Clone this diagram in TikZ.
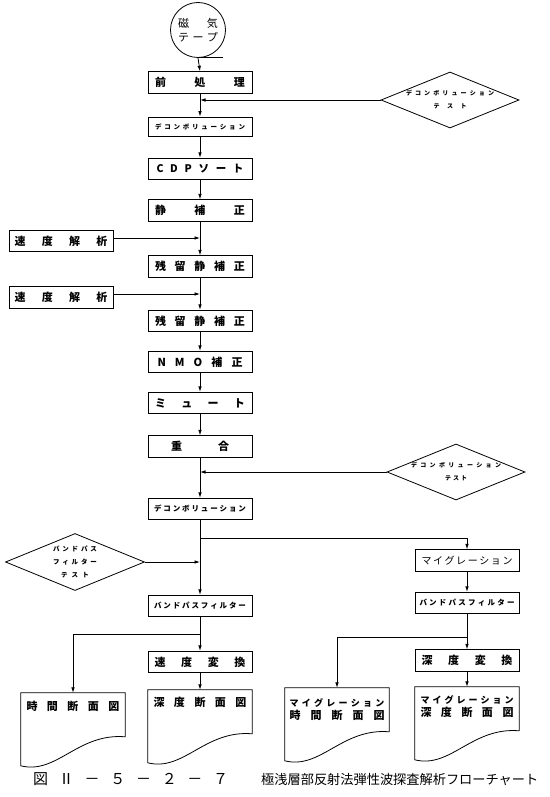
\documentclass[tikz,border=0pt]{standalone}
\usepackage{fontspec}
\setmainfont{Noto Sans CJK JP}
\usetikzlibrary{arrows.meta,calc,shapes.geometric}
\ExplSyntaxOn
\NewDocumentCommand\spreadit{mm}{\makebox[#1][s]{\tl_map_inline:nn{#2}{##1\hfill}\unskip}}
\ExplSyntaxOff
\newcommand\docoutline[1]{\draw[ln] (#1.north west) -- (#1.north east) -- ($(#1.north east)+(0,44)$) .. controls ($(#1.north west)+(57,40)$) and ($(#1.north west)+(36,82)$) .. ($(#1.north west)+(0,73)$) -- cycle;}
\begin{document}
\begin{tikzpicture}[x=1pt,y=-1pt,
  every node/.style={inner sep=0pt},
  ln/.style={line width=0.8pt},
  arr/.style={ln,-{Latex[length=5.5pt,width=3.6pt]}},
  proc/.style={draw,ln,minimum width=104pt,minimum height=21.5pt,font=\fontsize{11}{13}\selectfont\bfseries},
  smalltxt/.style={font=\fontsize{6.5}{8}\selectfont\bfseries},
  midtxt/.style={font=\fontsize{7.5}{9}\selectfont\bfseries},
  dia/.style={draw,ln,diamond,aspect=2.5,minimum width=138pt,minimum height=56pt,align=center,font=\fontsize{6}{13}\selectfont\bfseries},
  docarea/.style={minimum width=104pt,minimum height=73pt},
  doctext/.style={font=\fontsize{11}{13}\selectfont\bfseries},
  docsmall/.style={font=\fontsize{9}{10}\selectfont\bfseries}
]
\useasboundingbox (0,0) rectangle (549,797);

% tape
\node[draw,ln,circle,minimum size=55pt,align=center,font=\fontsize{11}{14}\selectfont] (tape) at (198,30) {\spreadit{40pt}{磁気}\\\spreadit{40pt}{テープ}};

% main column
\node[proc] (pre) at (200,82.5) {\spreadit{90pt}{前処理}};
\node[proc,smalltxt,minimum height=19pt] (dec1) at (200,126.5) {\spreadit{90pt}{デコンボリューション}};
\node[proc,font=\fontsize{10.5}{12}\selectfont\bfseries] (cdp) at (200,169) {\spreadit{87pt}{CDPソート}};
\node[proc] (sei) at (200,210.5) {\spreadit{90pt}{静補正}};
\node[proc] (zan1) at (200,266.5) {\spreadit{90pt}{残留静補正}};
\node[proc] (zan2) at (200,321) {\spreadit{90pt}{残留静補正}};
\node[proc] (vel1) at (61,241) {\spreadit{93pt}{速度解析}};
\node[proc] (vel2) at (61,297.5) {\spreadit{93pt}{速度解析}};
\node[proc] (nmo) at (200,362) {\spreadit{85pt}{NMO補正}};
\node[proc] (mute) at (200,403) {\spreadit{90pt}{ミュート}};
\node[proc] (stack) at (200,446.5) {\spreadit{58pt}{重合}};
\node[proc,midtxt] (dec2) at (200,509) {\spreadit{92pt}{デコンボリューション}};
\node[proc,midtxt] (bpl) at (200,606) {\spreadit{92pt}{バンドパスフィルター}};
\node[proc] (vconv) at (200,662) {\spreadit{91pt}{速度変換}};

% right column
\node[proc,font=\fontsize{10}{12}\selectfont] (mig) at (467,560.5) {\spreadit{91pt}{マイグレーション}};
\node[proc,midtxt] (bpr) at (467,603) {\spreadit{95pt}{バンドパスフィルター}};
\node[proc] (dconv) at (467,660.5) {\spreadit{91pt}{深度変換}};

% diamonds
\node[dia] (d1) at (450,100) {\spreadit{88pt}{デコンボリューション}\\\spreadit{33pt}{テスト}};
\node[dia] (d2) at (456,472) {\spreadit{90pt}{デコンボリューション}\\\spreadit{22pt}{テスト}};
\node[dia,minimum width=139pt,minimum height=57pt,font=\fontsize{6.5}{13}\selectfont\bfseries] (d3) at (75,562) {\spreadit{44pt}{バンドパス}\\\spreadit{44pt}{フィルター}\\\spreadit{28pt}{テスト}};

% documents
\node[docarea] (doc1) at (73,729.5) {};
\node[docarea] (doc2) at (200,726.5) {};
\node[docarea] (doc3) at (337,724.5) {};
\node[docarea] (doc4) at (467,723.5) {};
\docoutline{doc1}
\docoutline{doc2}
\docoutline{doc3}
\docoutline{doc4}
\node[doctext] (t1) at ($(doc1.north)+(0,14)$) {\spreadit{93pt}{時間断面図}};
\node[doctext] (t2) at ($(doc2.north)+(0,13)$) {\spreadit{93pt}{深度断面図}};
\node[docsmall] (t3a) at ($(doc3.north)+(0,15)$) {\spreadit{95pt}{マイグレーション}};
\node[doctext] (t3b) at ($(doc3.north)+(0,28)$) {\spreadit{95pt}{時間断面図}};
\node[docsmall] (t4a) at ($(doc4.north)+(0,13)$) {\spreadit{93pt}{マイグレーション}};
\node[doctext] (t4b) at ($(doc4.north)+(0,26)$) {\spreadit{93pt}{深度断面図}};

% connectors
\draw[arr] (tape.south) -- (pre.north);
\draw[ln] (tape.south) -- ++(25,0);
\draw[arr] (pre.south) -- (dec1.north);
\draw[arr] (d1.west) -- (d1.west -| pre.south);
\draw[arr] (dec1.south) -- (cdp.north);
\draw[arr] (cdp.south) -- (sei.north);
\draw[arr] (sei.south) -- (zan1.north);
\coordinate (v1o) at ([yshift=3pt]vel1.east);
\draw[arr] (v1o) -- (v1o -| sei.south);
\draw[arr] (zan1.south) -- (zan2.north);
\coordinate (v2o) at ([yshift=3.5pt]vel2.east);
\draw[arr] (v2o) -- (v2o -| zan1.south);
\draw[arr] (zan2.south) -- (nmo.north);
\draw[arr] (nmo.south) -- (mute.north);
\draw[arr] (mute.south) -- (stack.north);
\draw[arr] (stack.south) -- (dec2.north);
\draw[arr] (d2.west) -- (d2.west -| stack.south);
\draw[arr] (dec2.south) -- (bpl.north);
\coordinate (br1) at (200,538);
\draw[arr] (br1) -| (mig.north);
\draw[arr] (d3.east) -- (d3.east -| dec2.south);
\draw[arr] (bpl.south) -- (vconv.north);
\coordinate (br2) at (200,634);
\draw[arr] (br2) -| (doc1.north);
\draw[arr] (vconv.south) -- (doc2.north);
\draw[arr] (mig.south) -- (bpr.north);
\draw[arr] (bpr.south) -- (dconv.north);
\coordinate (br3) at (467,637);
\draw[arr] (br3) -| (doc3.north);
\draw[arr] (dconv.south) -- (doc4.north);

% caption
\node[anchor=west,font=\fontsize{13.2}{14}\selectfont] (cap) at (33,779) {{\fontsize{15}{15}\selectfont\spreadit{195pt}{図Ⅱ－５－２－７}}\hspace{33pt}極浅層部反射法弾性波探査解析フローチャート};
\end{tikzpicture}
\end{document}
